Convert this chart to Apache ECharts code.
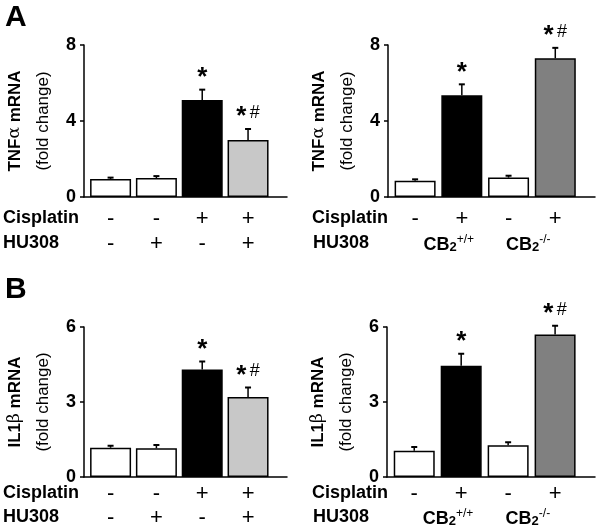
<!DOCTYPE html>
<html>
<head>
<meta charset="utf-8">
<title>TNFa / IL1b mRNA</title>
<script src="https://cdn.jsdelivr.net/npm/echarts@6/dist/echarts.min.js"></script>
<style>
  html, body { margin: 0; background: #fff; }
  #main { width: 600px; height: 531px; }
</style>
</head>
<body>
<div id="main"></div>
<script>
// ---- data ----
var positions = [1, 2, 3, 4];

var tnfLeft = [0.95, 1.0, 5.1, 3.0];
var tnfLeftSem = [0.07, 0.1, 0.55, 0.58];
var tnfRight = [0.85, 5.35, 1.02, 7.3];
var tnfRightSem = [0.08, 0.58, 0.1, 0.55];

var il1Left = [1.17, 1.15, 4.3, 3.2];
var il1LeftSem = [0.08, 0.13, 0.32, 0.38];
var il1Right = [1.05, 4.45, 1.27, 5.7];
var il1RightSem = [0.15, 0.48, 0.12, 0.35];

var marksLeft = ['', '', '*', '*#'];
var marksRight = ['', '*', '', '*#'];

var cisLeft = ['-', '-', '+', '+'];
var huLeft = ['-', '+', '-', '+'];
var cisRight = ['-', '+', '-', '+'];
var genotypes = ['+/+', '-/-'];
var genotypePos = [1.72, 3.42];

var yTicksTnf = [0, 4, 8];
var yTicksIl1 = [0, 3, 6];

// ---- styles ----
var F = '"Liberation Sans", Arial, sans-serif';
var fillsLeft = ['#ffffff', '#ffffff', '#000000', '#c8c8c8'];
var fillsRight = ['#ffffff', '#000000', '#ffffff', '#808080'];
var xMin = 0.42, xMax = 4.85;

var myChart = echarts.init(document.getElementById('main'));

var grids = [], xAxes = [], yAxes = [], series = [];

function addPanel(k, p) {
    grids.push({ left: p.left, top: p.top, width: p.width, height: p.height });
    xAxes.push({
        gridIndex: k, type: 'value', min: xMin, max: xMax,
        axisLine: { show: true, onZero: false, lineStyle: { color: '#000', width: 1.5 } },
        axisTick: { show: false }, axisLabel: { show: false }, splitLine: { show: false }
    });
    var ticks = p.ticks;
    yAxes.push({
        gridIndex: k, type: 'value', min: ticks[0], max: ticks[ticks.length - 1],
        interval: ticks[1] - ticks[0],
        name: p.name, nameLocation: 'middle', nameRotate: 90, nameGap: 27,
        nameTextStyle: {
            color: '#000', lineHeight: 28,
            rich: {
                b: { fontFamily: F, fontWeight: 'bold', fontSize: 17, color: '#000' },
                g: { fontFamily: '"DejaVu Serif", serif', fontSize: 17, color: '#000' },
                n: { fontFamily: F, fontSize: 17, color: '#000' }
            }
        },
        axisLine: { show: true, lineStyle: { color: '#000', width: 1.5 } },
        axisTick: { show: true, inside: false, length: 4, lineStyle: { color: '#000', width: 1.5 } },
        axisLabel: { color: '#000', fontFamily: F, fontWeight: 'bold', fontSize: 18, margin: 8 },
        splitLine: { show: false }
    });

    // bars
    series.push({
        type: 'bar', xAxisIndex: k, yAxisIndex: k, barWidth: 41, animation: false, silent: true,
        itemStyle: { borderColor: '#000', borderWidth: 1.5 },
        data: p.values.map(function (v, i) {
            return { value: [positions[i], v], itemStyle: { color: p.fills[i] } };
        })
    });

    // error bars + significance marks
    series.push({
        type: 'custom', xAxisIndex: k, yAxisIndex: k, animation: false, silent: true, z: 5,
        data: p.values.map(function (v, i) { return [positions[i], v, p.sem[i], i]; }),
        renderItem: function (params, api) {
            var x = api.value(0), m = api.value(1), s = api.value(2), idx = api.value(3);
            var base = api.coord([x, m]);
            var top = api.coord([x, m + s]);
            var kids = [
                { type: 'line', shape: { x1: base[0], y1: base[1], x2: top[0], y2: top[1] },
                  style: { stroke: '#000', lineWidth: 1.5 } },
                { type: 'line', shape: { x1: top[0] - 3, y1: top[1], x2: top[0] + 3, y2: top[1] },
                  style: { stroke: '#000', lineWidth: 2 } }
            ];
            var mark = p.marks[idx];
            if (mark) {
                kids.push({
                    type: 'text', x: top[0], y: top[1] + 1,
                    style: {
                        text: mark === '*#' ? '{s|*} {h|#}' : '{s|*}',
                        align: 'center', verticalAlign: 'bottom',
                        rich: {
                            s: { fontFamily: F, fontWeight: 'bold', fontSize: 26, fill: '#000' },
                            h: { fontFamily: F, fontSize: 18, fill: '#000', verticalAlign: 'top' }
                        }
                    }
                });
            }
            return { type: 'group', children: kids };
        }
    });

    // +/- rows under the axis
    series.push({
        type: 'custom', xAxisIndex: k, yAxisIndex: k, animation: false, silent: true,
        data: positions.map(function (x, i) { return [x, i]; }),
        renderItem: function (params, api) {
            var i = api.value(1);
            var pt = api.coord([api.value(0), 0]);
            var kids = [{
                type: 'text', x: pt[0], y: pt[1] + p.row1,
                style: { text: p.top1[i], align: 'center', verticalAlign: 'middle',
                         fontFamily: F, fontSize: 22, fill: '#000' }
            }];
            if (p.top2) {
                kids.push({
                    type: 'text', x: pt[0], y: pt[1] + p.row2,
                    style: { text: p.top2[i], align: 'center', verticalAlign: 'middle',
                             fontFamily: F, fontSize: 22, fill: '#000' }
                });
            }
            return { type: 'group', children: kids };
        }
    });

    // genotype labels on right panels
    if (p.geno) {
        series.push({
            type: 'custom', xAxisIndex: k, yAxisIndex: k, animation: false, silent: true,
            data: genotypePos.map(function (x, i) { return [x, i]; }),
            renderItem: function (params, api) {
                var pt = api.coord([api.value(0), 0]);
                return {
                    type: 'text', x: pt[0], y: pt[1] + p.row2,
                    style: {
                        text: '{c|CB}{d|2}{u|' + genotypes[api.value(1)] + '}',
                        align: 'center', verticalAlign: 'middle',
                        rich: {
                            c: { fontFamily: F, fontWeight: 'bold', fontSize: 18, fill: '#000', verticalAlign: 'bottom', lineHeight: 20 },
                            d: { fontFamily: F, fontWeight: 'bold', fontSize: 13, fill: '#000', verticalAlign: 'bottom', lineHeight: 20 },
                            u: { fontFamily: F, fontSize: 12, fill: '#000', verticalAlign: 'top', lineHeight: 20 }
                        }
                    }
                };
            }
        });
    }
}

var tnfName = '{b|TNF}{g|α}{b| mRNA}\n{n|(fold change)}';
var il1Name = '{b|IL1}{g|β}{b| mRNA}\n{n|(fold change)}';

addPanel(0, { left: 81, top: 45, width: 206, height: 152, ticks: yTicksTnf, name: tnfName,
    values: tnfLeft, sem: tnfLeftSem, fills: fillsLeft, marks: marksLeft,
    top1: cisLeft, top2: huLeft, row1: 22, row2: 47 });
addPanel(1, { left: 388, top: 45, width: 207, height: 152, ticks: yTicksTnf, name: tnfName,
    values: tnfRight, sem: tnfRightSem, fills: fillsRight, marks: marksRight,
    top1: cisRight, geno: true, row1: 22, row2: 47 });
addPanel(2, { left: 78, top: 327, width: 209, height: 150, ticks: yTicksIl1, name: il1Name,
    values: il1Left, sem: il1LeftSem, fills: fillsLeft, marks: marksLeft,
    top1: cisLeft, top2: huLeft, row1: 17, row2: 41 });
addPanel(3, { left: 387, top: 327, width: 208, height: 150, ticks: yTicksIl1, name: il1Name,
    values: il1Right, sem: il1RightSem, fills: fillsRight, marks: marksRight,
    top1: cisRight, geno: true, row1: 17, row2: 41 });

function rowTitle(txt, x, y) {
    return { type: 'text', left: x, top: y - 10,
             style: { text: txt, fontFamily: F, fontWeight: 'bold', fontSize: 18, fill: '#000' } };
}

myChart.setOption({
    animation: false,
    grid: grids,
    xAxis: xAxes,
    yAxis: yAxes,
    series: series,
    graphic: [
        { type: 'text', left: 5, top: 3, style: { text: 'A', fontFamily: F, fontWeight: 'bold', fontSize: 30, fill: '#000' } },
        { type: 'text', left: 5, top: 275, style: { text: 'B', fontFamily: F, fontWeight: 'bold', fontSize: 30, fill: '#000' } },
        rowTitle('Cisplatin', 3, 219), rowTitle('HU308', 3, 244),
        rowTitle('Cisplatin', 312, 219), rowTitle('HU308', 313, 244),
        rowTitle('Cisplatin', 3, 494), rowTitle('HU308', 3, 518),
        rowTitle('Cisplatin', 312, 494), rowTitle('HU308', 313, 518)
    ]
});
</script>
</body>
</html>
